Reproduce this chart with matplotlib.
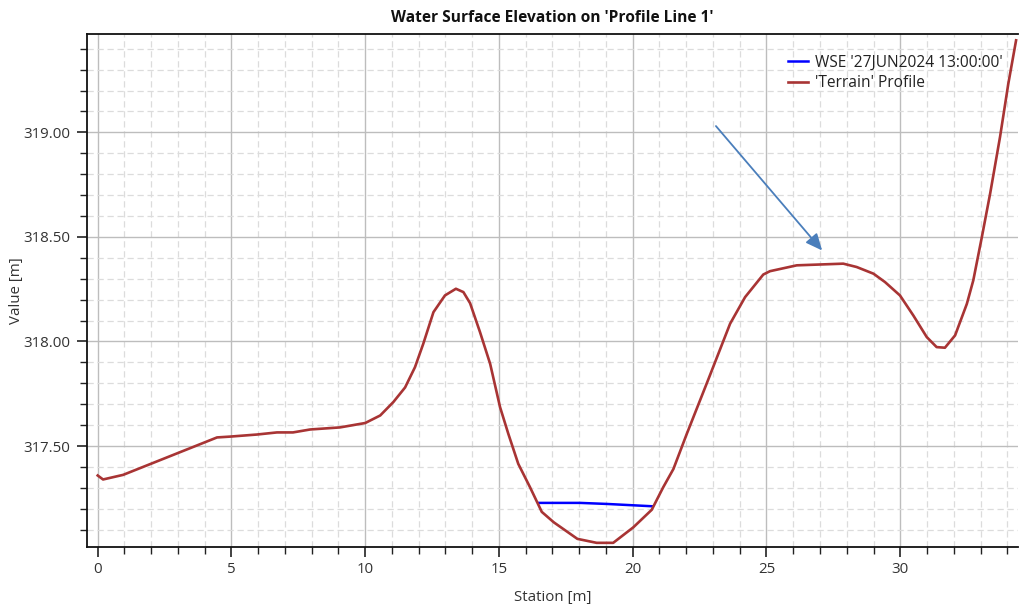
import matplotlib
matplotlib.use("Agg")
import matplotlib.pyplot as plt
from matplotlib.ticker import MultipleLocator, FormatStrFormatter

plt.rcParams['font.family'] = ['Open Sans', 'DejaVu Sans']

# Terrain profile (station [m], elevation [m])
terrain_station = [0.0, 0.2, 0.95, 4.46, 4.95, 5.96, 6.7, 7.3, 7.94, 9.06, 10.0, 10.56, 11.05,
                   11.49, 11.86, 12.17, 12.55, 12.98, 13.39, 13.67, 13.92, 14.29, 14.67,
                   15.04, 15.35, 15.72, 16.16, 16.6, 17.05, 17.93, 18.65, 19.27, 20.02,
                   20.71, 21.14, 21.52, 22.02, 22.83, 23.64, 24.2, 24.88, 25.13, 26.13,
                   27.0, 27.87, 28.37, 29.0, 29.43, 29.99, 30.49, 30.99, 31.36, 31.67,
                   32.05, 32.49, 32.73, 33.05, 33.36, 33.73, 34.04, 34.33]
terrain_elev = [317.359, 317.34, 317.362, 317.541, 317.545, 317.555, 317.565, 317.565, 317.579,
                317.589, 317.61, 317.646, 317.71, 317.78, 317.877, 317.989, 318.14, 318.22,
                318.252, 318.236, 318.183, 318.045, 317.893, 317.686, 317.558, 317.415,
                317.303, 317.185, 317.135, 317.056, 317.037, 317.037, 317.111, 317.195,
                317.303, 317.39, 317.558, 317.82, 318.085, 318.212, 318.32, 318.336,
                318.364, 318.368, 318.372, 318.356, 318.324, 318.284, 318.22, 318.124,
                318.021, 317.973, 317.97, 318.029, 318.18, 318.292, 318.499, 318.707,
                318.978, 319.233, 319.44]

# Water surface elevation
wse_station = [16.5, 18.03, 19.03, 20.71]
wse_elev = [317.228, 317.228, 317.223, 317.212]

# Annotation arrow (tail, head) in data units
arrow_tail = (23.11, 319.03)
arrow_head = (27.08, 318.435)

fig = plt.figure(figsize=(10.2, 6.08), dpi=100)
ax = fig.add_axes([0.0853, 0.1003, 0.9127, 0.8437])

ax.plot(wse_station, wse_elev, color='#0000FF', lw=1.8,
        label="WSE '27JUN2024 13:00:00'", zorder=3)
ax.plot(terrain_station, terrain_elev, color='#A83434', lw=1.9,
        label="'Terrain' Profile", zorder=3)

ax.annotate('', xy=arrow_head, xytext=arrow_tail,
            arrowprops=dict(arrowstyle='-|>,head_length=1.0,head_width=0.45',
                            color='#4A7EBB', lw=1.3, shrinkA=0, shrinkB=0), zorder=4)

ax.set_xlim(-0.4, 34.4)
ax.set_ylim(317.017, 319.47)

ax.xaxis.set_major_locator(MultipleLocator(5))
ax.xaxis.set_minor_locator(MultipleLocator(1))
ax.yaxis.set_major_locator(MultipleLocator(0.5))
ax.yaxis.set_minor_locator(MultipleLocator(0.1))
ax.yaxis.set_major_formatter(FormatStrFormatter('%.2f'))

ax.grid(which='major', color='#BDBDBD', lw=1.0, ls='-')
ax.grid(which='minor', color='#DCDCDC', lw=0.9, ls=(0, (5, 3)))
ax.set_axisbelow(True)

ax.tick_params(which='major', length=7, width=1.2, labelsize=10.8, colors='#222222')
ax.tick_params(which='minor', length=5, width=1.0, colors='#222222')
ax.tick_params(axis='x', labelcolor='#333333', pad=4)
ax.tick_params(axis='y', labelcolor='#333333', pad=5)

ax.spines['right'].set_visible(False)
for s in ['left', 'bottom', 'top']:
    ax.spines[s].set_linewidth(1.3)
    ax.spines[s].set_color('#111111')

ax.set_xlabel('Station [m]', fontsize=10.8, color='#333333')
ax.set_ylabel('Value [m]', fontsize=10.8, color='#333333')
ax.yaxis.set_label_coords(-0.068, 0.5)
ax.xaxis.set_label_coords(0.5, -0.083)
ax.set_title("Water Surface Elevation on 'Profile Line 1'", fontsize=11.2,
             fontweight='bold', color='#111111', pad=9)

leg = ax.legend(loc='upper left', bbox_to_anchor=(0.7465, 0.972), frameon=False,
                fontsize=11.2, handlelength=1.3, handletextpad=0.45, labelspacing=0.3,
                borderaxespad=0)
for t in leg.get_texts():
    t.set_color('#222222')

fig.savefig('out.png', dpi=100)
